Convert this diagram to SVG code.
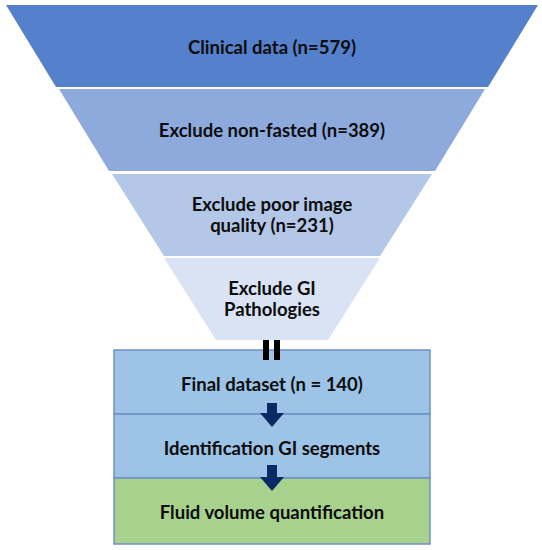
<svg xmlns="http://www.w3.org/2000/svg" width="542" height="550" viewBox="0 0 542 550">
<style>
.t{font-family:"Lato","Liberation Sans",sans-serif;font-weight:bold;font-size:18.5px;fill:#0d0d0d;text-anchor:middle}
.box{stroke:#6f91c9;stroke-width:1.5}
.arr{fill:#0a2a66}
</style>
<rect width="542" height="550" fill="#ffffff"/>
<g id="band1"><polygon points="6,5 538,5 488,87 56,87" fill="#5580cc"/><text class="t" x="272" y="54">Clinical data (n=579)</text></g>
<g id="band2"><polygon points="59,89 485,89 435,171 109,171" fill="#8eaadc"/><text class="t" x="272" y="137">Exclude non-fasted (n=389)</text></g>
<g id="band3"><polygon points="112,174 432,174 380,256 164,256" fill="#b4c7e7"/><text class="t" x="272" y="211">Exclude poor image</text><text class="t" x="272" y="232">quality (n=231)</text></g>
<g id="band4"><polygon points="164,258 380,258 328,340 216,340" fill="#dae3f3"/><text class="t" x="272" y="295">Exclude GI</text><text class="t" x="272" y="316">Pathologies</text></g>
<g id="box1"><rect class="box" x="114" y="350" width="316" height="64" fill="#9dc3e6"/><text class="t" x="272" y="391">Final dataset (n = 140)</text></g>
<g id="box2"><rect class="box" x="114" y="414" width="316" height="64" fill="#9dc3e6"/><text class="t" x="272" y="455">Identification GI segments</text></g>
<g id="box3"><rect class="box" x="114" y="478" width="316" height="66" fill="#a9d18e"/><text class="t" x="272" y="519">Fluid volume quantification</text></g>
<g id="connectors">
<rect x="263" y="340" width="6" height="20" fill="#000"/>
<rect x="274" y="340" width="6" height="20" fill="#000"/>
<polygon class="arr" points="267,403 277,403 277,413 284,413 272,427 260,413 267,413"/>
<polygon class="arr" points="267,465 277,465 277,477 284,477 272,491 260,477 267,477"/>
</g>
</svg>
